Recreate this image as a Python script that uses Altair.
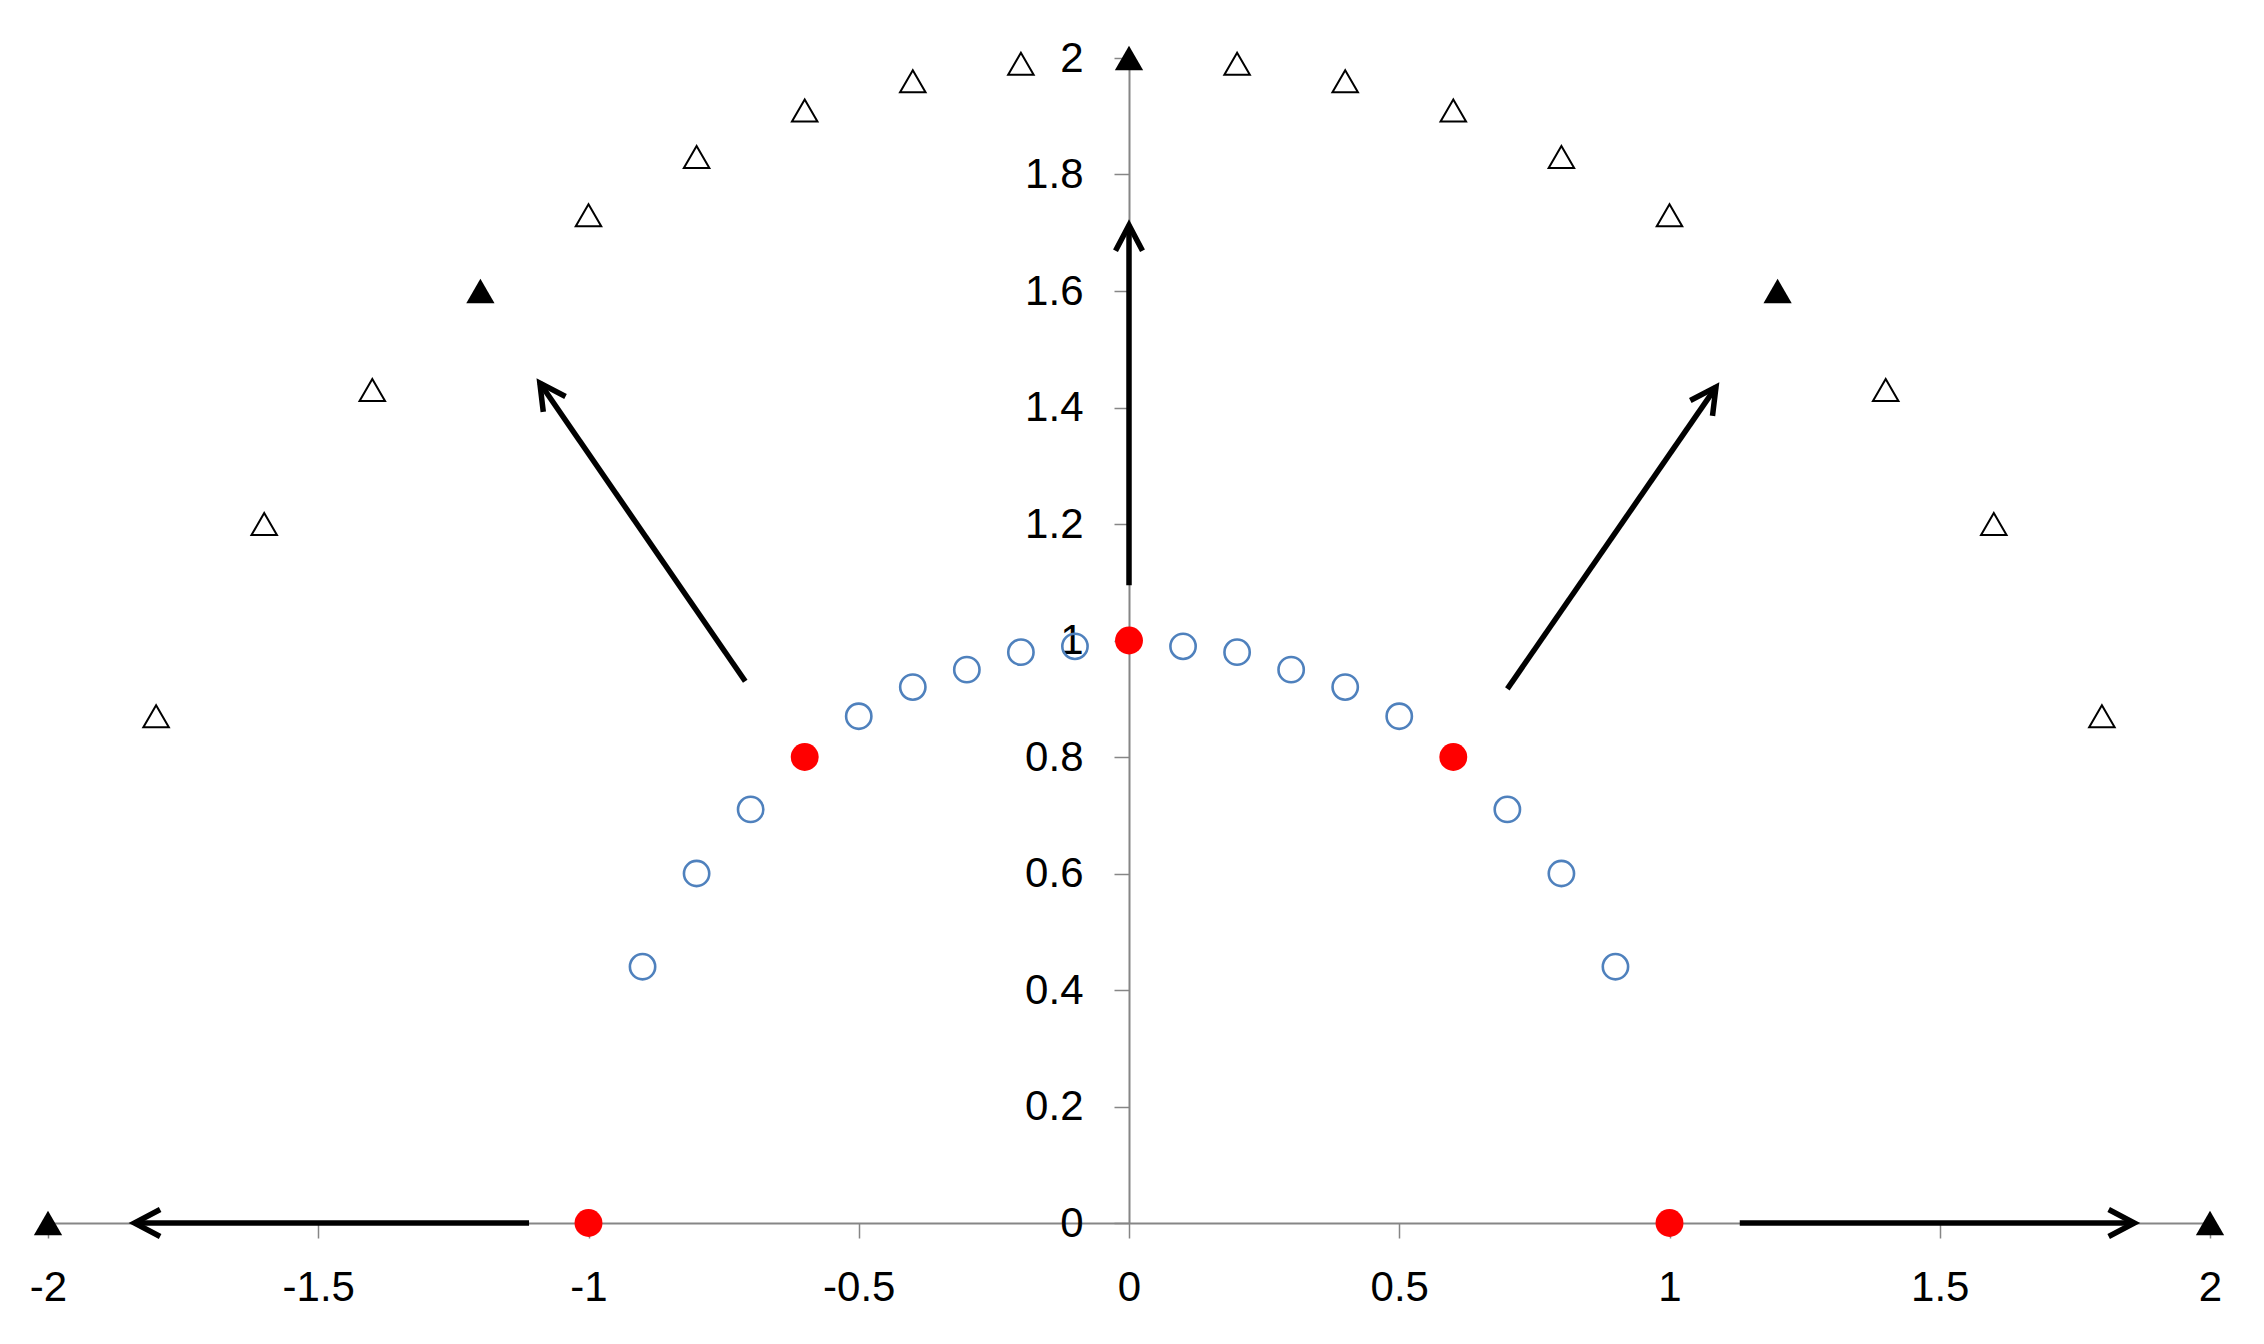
import math
import altair as alt
import pandas as pd

W, H = 2162, 1165

x_ticks = [-2, -1.5, -1, -0.5, 0, 0.5, 1, 1.5, 2]
y_ticks = [0, 0.2, 0.4, 0.6, 0.8, 1, 1.2, 1.4, 1.6, 1.8, 2]

circle_x = [-0.9, -0.8, -0.7, -0.5, -0.4, -0.3, -0.2, -0.1, 0.1, 0.2, 0.3, 0.4, 0.5, 0.7, 0.8, 0.9]
circle_y = [0.44, 0.60, 0.71, 0.87, 0.92, 0.95, 0.98, 0.99, 0.99, 0.98, 0.95, 0.92, 0.87, 0.71, 0.60, 0.44]

red_x = [-1, -0.6, 0, 0.6, 1]
red_y = [0, 0.8, 1, 0.8, 0]

tri_open_x = [-1.8, -1.6, -1.4, -1.0, -0.8, -0.6, -0.4, -0.2, 0.2, 0.4, 0.6, 0.8, 1.0, 1.4, 1.6, 1.8]
tri_open_y = [0.87, 1.2, 1.43, 1.73, 1.83, 1.91, 1.96, 1.99, 1.99, 1.96, 1.91, 1.83, 1.73, 1.43, 1.2, 0.87]

tri_fill_x = [-2, -1.2, 0, 1.2, 2]
tri_fill_y = [0, 1.6, 2, 1.6, 0]

arrow_x1 = [-1.11, -0.71, 0, 0.70, 1.13]
arrow_y1 = [0, 0.93, 1.095, 0.917, 0]
arrow_x2 = [-1.84, -1.09, 0, 1.086, 1.86]
arrow_y2 = [0, 1.442, 1.713, 1.435, 0]

circles = pd.DataFrame({"x": circle_x, "y": circle_y})
reds = pd.DataFrame({"x": red_x, "y": red_y})
tri_open = pd.DataFrame({"x": tri_open_x, "y": tri_open_y})
tri_fill = pd.DataFrame({"x": tri_fill_x, "y": tri_fill_y})

angles = []
for a, b, c, d in zip(arrow_x1, arrow_y1, arrow_x2, arrow_y2):
    dx = (c - a) * W / 4.0
    dy = (d - b) * H / 2.0
    angles.append(math.degrees(math.atan2(dx, dy)) % 360)
arrows = pd.DataFrame({"x": arrow_x1, "y": arrow_y1, "x2": arrow_x2, "y2": arrow_y2, "ang": angles})

axis_common = dict(
    grid=False, title=None, domainColor="#868686", domainWidth=2,
    tickColor="#868686", tickWidth=1.5, tickSize=15,
    labelFont="Liberation Sans", labelFontSize=42, labelColor="#000000",
    labelFlush=False, labelOverlap=False, labelExpr="toString(datum.value)",
)

xs = alt.Scale(domain=[-2, 2], nice=False, zero=False)
ys = alt.Scale(domain=[0, 2], nice=False, zero=False)

X = alt.X("x:Q", scale=xs, axis=alt.Axis(values=x_ticks, orient="bottom", labelPadding=29, **axis_common))
Y = alt.Y("y:Q", scale=ys, axis=alt.Axis(values=y_ticks, orient="left", offset=-W / 2, labelPadding=31, **axis_common))

base_x = alt.X("x:Q", scale=xs)
base_y = alt.Y("y:Q", scale=ys)

circle_layer = alt.Chart(circles).mark_point(
    shape="circle", filled=False, stroke="#4F81BD", strokeWidth=2.6, size=640, opacity=1
).encode(x=X, y=Y)

tri_open_layer = alt.Chart(tri_open).mark_point(
    shape="triangle-up", filled=False, stroke="#000000", strokeWidth=2, size=650, opacity=1
).encode(x=base_x, y=base_y)

tri_fill_layer = alt.Chart(tri_fill).mark_point(
    shape="triangle-up", filled=True, fill="#000000", size=800, opacity=1
).encode(x=base_x, y=base_y)

arrow_lines = alt.Chart(arrows).mark_rule(
    color="#000000", strokeWidth=5.5, strokeCap="butt"
).encode(x=base_x, y=base_y, x2="x2:Q", y2="y2:Q")

arrow_heads = alt.Chart(arrows).mark_point(
    shape="M -1 1.9 L 0 0 L 1 1.9", filled=False, stroke="#000000",
    strokeWidth=5.5, size=729, opacity=1, strokeJoin="miter"
).encode(
    x=alt.X("x2:Q", scale=xs),
    y=alt.Y("y2:Q", scale=ys),
    angle=alt.Angle("ang:Q", scale=None),
)

red_layer = alt.Chart(reds).mark_point(
    shape="circle", filled=True, fill="#FF0000", size=780, opacity=1
).encode(x=base_x, y=base_y)

chart = alt.layer(
    circle_layer, tri_open_layer, tri_fill_layer, arrow_lines, arrow_heads, red_layer
).properties(
    width=W, height=H,
    autosize=alt.AutoSizeParams(type="none"),
    padding={"left": 40, "top": 50, "right": 40, "bottom": 100},
).configure(background="#ffffff").configure_view(stroke=None, strokeWidth=0)

chart.save("out.html", embed_options={"renderer": "svg", "actions": False})
